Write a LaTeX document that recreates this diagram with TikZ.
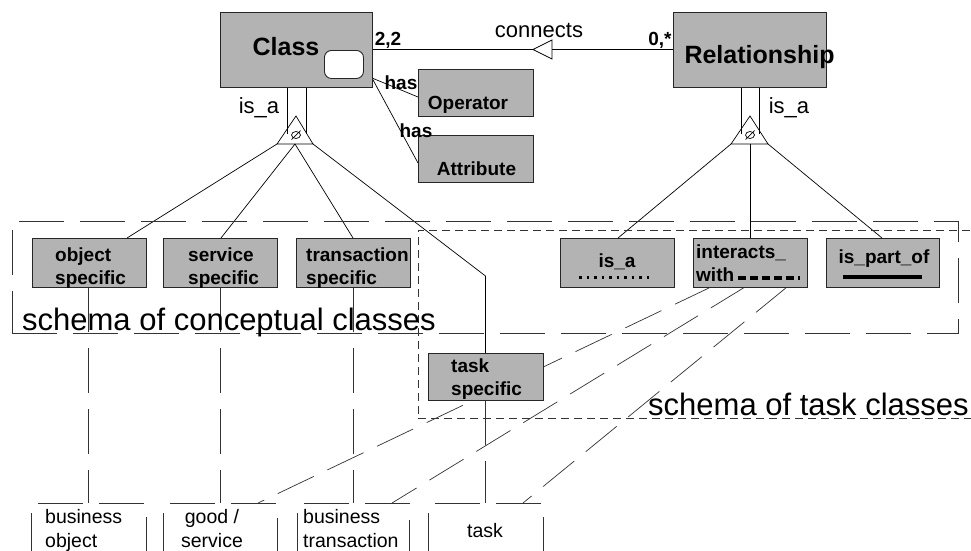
\documentclass[tikz,border=0pt]{standalone}
\usepackage{fontspec}
\setmainfont{Liberation Sans}
\usetikzlibrary{calc}
\definecolor{boxgray}{RGB}{179,179,179}
\pgfdeclarelayer{bg}
\pgfsetlayers{bg,main}
\tikzset{
  box/.style={draw=black!85, fill=boxgray, line width=0.9pt, inner sep=0pt, outer sep=0pt, anchor=north west},
  frame/.style={inner sep=0pt, outer sep=0pt, anchor=north west},
  conn/.style={line width=0.7pt, black},
  longdash/.style={line width=0.7pt, black!80, dash pattern=on 45pt off 16pt},
  shortdash/.style={line width=0.7pt, black!80, dash pattern=on 8pt off 5pt},
  bigbold/.style={font=\fontsize{25}{30}\selectfont\bfseries, inner sep=0pt},
  lbl/.style={font=\fontsize{19}{23}\selectfont\bfseries, inner sep=0pt, align=left},
  plain/.style={font=\fontsize{22}{26}\selectfont, inner sep=0pt},
  schema/.style={font=\fontsize{31}{36}\selectfont, inner sep=0pt},
  btext/.style={font=\fontsize{19.5}{24}\selectfont, inner sep=0pt},
}
\begin{document}
\begin{tikzpicture}[x=1pt,y=-1pt]
\clip (0,0) rectangle (971,550);
\begin{pgfonlayer}{bg}
  \fill[white] (0,0) rectangle (971,550);
\end{pgfonlayer}

% schema frames
\node[frame, draw, longdash, minimum width=946pt, minimum height=112pt] (concframe) at (12,221) {};
\node[frame, draw, shortdash, minimum width=572pt, minimum height=188pt] (taskframe) at (418,230) {};

% top level classes
\node[box, minimum width=152pt, minimum height=75pt] (cls) at (220,12) {};
\node[draw=black!85, fill=white, line width=0.9pt, rounded corners=7pt, minimum width=39pt, minimum height=28pt, inner sep=0pt, anchor=north west] (clsicon) at (324,50) {};
\node[box, minimum width=153pt, minimum height=75pt] (rel) at (673,12) {};
\node[box, minimum width=115pt, minimum height=47pt] (op) at (418,69) {};
\node[box, minimum width=115pt, minimum height=47pt] (attr) at (418,135) {};

% specialised classes
\node[box, minimum width=114pt, minimum height=49pt] (obj) at (32,238) {};
\node[box, minimum width=114pt, minimum height=49pt] (serv) at (163,238) {};
\node[box, minimum width=114pt, minimum height=49pt] (trans) at (296,238) {};
\node[box, minimum width=114pt, minimum height=49pt] (isab) at (560,238) {};
\node[box, minimum width=114pt, minimum height=49pt] (inter) at (693,238) {};
\node[box, minimum width=113pt, minimum height=49pt] (part) at (826,238) {};
\node[box, minimum width=115pt, minimum height=47pt] (task) at (428,353) {};

% instance boxes (open at the bottom)
\node[frame, minimum width=115pt, minimum height=80pt] (bobj) at (31,503) {};
\node[frame, minimum width=114pt, minimum height=80pt] (bserv) at (163,503) {};
\node[frame, minimum width=112pt, minimum height=80pt] (btrans) at (297,503) {};
\node[frame, minimum width=115pt, minimum height=80pt] (btask) at (428,503) {};

\begin{pgfonlayer}{bg}
  \foreach \b in {bobj,bserv,btrans,btask}{
    \draw[longdash, dash phase=51pt] (\b.north west) -- (\b.south west);
    \draw[longdash, dash phase=54pt] (\b.north west) -- (\b.north east) -- (\b.south east);
  }
\end{pgfonlayer}

% texts
\node[bigbold, anchor=base] (clsT) at (286,55) {Class};
\node[bigbold, anchor=base] (relT) at (759.5,63) {Relationship};
\node[lbl, anchor=base] (opT) at (468,109) {Operator};
\node[lbl, anchor=base] (attrT) at (476.5,175) {Attribute};
\node[lbl, anchor=base] (card1) at (388,45) {2,2};
\node[lbl, anchor=base] (card2) at (660,45) {0,*};
\node[plain, anchor=base] (connT) at (539,37) {connects};
\node[plain, anchor=base] (isa1) at (259,113) {is\_a};
\node[plain, anchor=base] (isa2) at (789,113) {is\_a};
\node[lbl, anchor=base] (has1) at (401,89) {has};
\node[lbl, anchor=base] (has2) at (416,137) {has};

\node[lbl, anchor=north west] (objT) at (55,248) {object\\specific};
\node[lbl, anchor=north west] (servT) at (188,248) {service\\specific};
\node[lbl, anchor=north west] (transT) at (306,248) {transaction\\specific};
\node[lbl, anchor=north west] (taskT) at (451,359) {task\\specific};
\node[lbl, anchor=base] (isabT) at (617,267) {is\_a};
\node[lbl, anchor=north west] (interT) at (696,245) {interacts\_\\with};
\node[lbl, anchor=base] (partT) at (884,263) {is\_part\_of};

% line style samples
\draw[line width=3pt, dash pattern=on 2.5pt off 5pt] (579,277) -- (652,277);
\draw[line width=3.5pt, dash pattern=on 8pt off 4pt] (738,278) -- (800,278);
\draw[line width=4pt] (843,277) -- (922,277);

\node[schema, anchor=base west] (concT) at (22,330) {schema of conceptual classes};
\node[schema, anchor=base west] (taskfT) at (648,415) {schema of task classes};

\node[btext, anchor=north west, align=left] (bobjT) at (45,509) {business\\object};
\node[btext, anchor=north, align=center] (bservT) at (212,509) {good /\\service};
\node[btext, anchor=north west, align=left] (btransT) at (303,509) {business\\transaction};
\node[btext, anchor=base] (btaskT) at (485,537) {task};

% generalisation triangles
\coordinate (ca) at (296,116);
\coordinate (cl) at (277,144);
\coordinate (cr) at (313,144);
\coordinate (cm) at (295,144);
\coordinate (ra) at (750,116);
\coordinate (rl) at (731,144);
\coordinate (rr) at (768,144);
\coordinate (rm) at (750,144);
\coordinate (bend) at (485.5,276);

\begin{pgfonlayer}{bg}
  % connects association with its open arrowhead
  \draw[conn] (cls.east) -- (rel.west);
  \draw[conn, fill=white] (533,49.5) -- (552,40) -- (552,59) -- cycle;
  % has associations
  \draw[conn] ([yshift=9pt]cls.south east) -- ([yshift=-4.5pt]op.west);
  \draw[conn] ([yshift=9pt]cls.south east) -- ([yshift=-4.5pt]attr.west);
  % is_a of Class
  \draw[conn] ([xshift=67pt]cls.south west) -- ++(0,47);
  \draw[conn] ([xshift=86pt]cls.south west) -- ++(0,47);
  \draw[conn] (ca) -- (cl) -- (cr) -- cycle;
  \draw[conn] (296,135) ellipse[x radius=4.5, y radius=3.5];
  \draw[conn] (291.5,139.5) -- (300.5,130.5);
  \draw[conn] (cl) -- ([xshift=95pt]obj.north west);
  \draw[conn] (cm) -- ([xshift=58pt]serv.north west);
  \draw[conn] (cm) -- ([xshift=57pt]trans.north west);
  \draw[conn] (cr) -- (bend) -- (task.north);
  % is_a of Relationship
  \draw[conn] ([xshift=68pt]rel.south west) -- ++(0,47);
  \draw[conn] ([xshift=86pt]rel.south west) -- ++(0,47);
  \draw[conn] (ra) -- (rl) -- (rr) -- cycle;
  \draw[conn] (750,135) ellipse[x radius=4.5, y radius=3.5];
  \draw[conn] (745.5,139.5) -- (754.5,130.5);
  \draw[conn] (rl) -- ([xshift=58pt]isab.north west);
  \draw[conn] (rm) -- (inter.north west -| rm);
  \draw[conn] (rr) -- ([xshift=56pt]part.north west);
  % instance links
  \draw[longdash] ([xshift=56pt]obj.south west) -- ([xshift=57pt]bobj.north west);
  \draw[longdash] ([xshift=57pt]serv.south west) -- ([xshift=57pt]bserv.north west);
  \draw[longdash] ([xshift=57pt]trans.south west) -- ([xshift=56pt]btrans.north west);
  \draw[longdash] (task.south) -- (btask.north);
  % interacts_with links
  \draw[longdash, dash pattern=on 40pt off 15pt] ([xshift=18pt]inter.south west) -- ([xshift=95pt]bserv.north west);
  \draw[longdash, dash pattern=on 40pt off 15pt] ([xshift=52pt]inter.south west) -- ([xshift=95pt]btrans.north west);
  \draw[longdash, dash pattern=on 40pt off 15pt] ([xshift=94pt]inter.south west) -- ([xshift=95pt]btask.north west);
\end{pgfonlayer}
\end{tikzpicture}
\end{document}
